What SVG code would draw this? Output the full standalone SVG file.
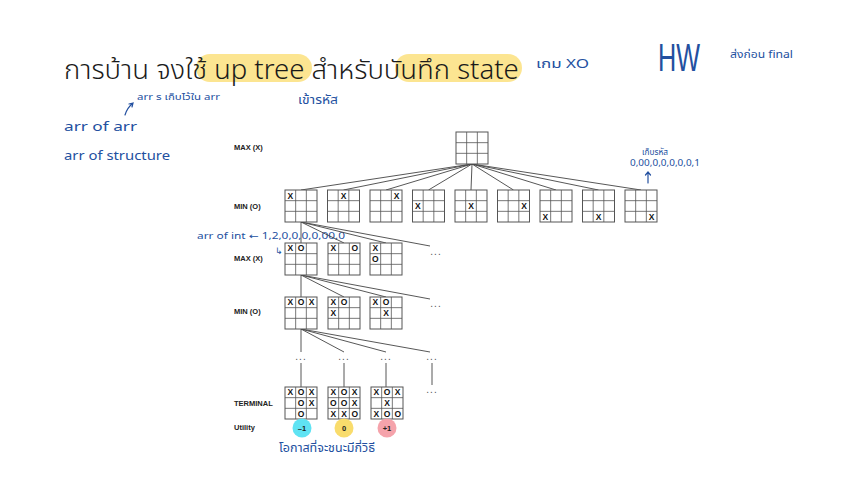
<svg xmlns="http://www.w3.org/2000/svg" xmlns:xlink="http://www.w3.org/1999/xlink" width="853" height="480" viewBox="0 0 853 480">
<style>
.bg{fill:#ffffff}
.lbl{font-family:"Liberation Sans",Arial,sans-serif;font-size:7.5px;font-weight:bold;fill:#222}
.m{font-family:"Liberation Sans",Arial,sans-serif;font-size:8.5px;font-weight:bold;fill:#111;text-anchor:middle}
.dots{font-family:"Liberation Sans",Arial,sans-serif;font-size:10px;fill:#555;text-anchor:middle;letter-spacing:1px}
.edge{stroke:#444;stroke-width:0.9;fill:none}
.hand{font-family:"Noto Sans Thai","Noto Sans","DejaVu Sans",sans-serif;fill:#2350a0}
.title{font-family:"Noto Sans Thai","Noto Sans","DejaVu Sans",sans-serif;font-size:27.5px;font-weight:300;fill:#1a1a1a}
.hl{stroke:#fbe07e;stroke-width:28;stroke-linecap:round;fill:none;opacity:0.85}
.util{font-family:"Liberation Sans",Arial,sans-serif;font-size:7.5px;font-weight:bold;fill:#222;text-anchor:middle}
.ink{stroke:#2350a0;stroke-width:1.2;fill:none;stroke-linecap:round}
</style>
<defs>
<symbol id="board" viewBox="0 0 32 32" width="32" height="32" overflow="visible">
<rect x="0" y="0" width="32" height="32" fill="#fff" stroke="#555" stroke-width="1"/>
<path d="M10.67 0V32M21.33 0V32M0 10.67H32M0 21.33H32" stroke="#555" stroke-width="0.8"/>
</symbol>
</defs>
<rect class="bg" x="0" y="0" width="853" height="480"/>

<g id="title">
<path class="hl" d="M210 68H298"/>
<path class="hl" d="M409 68H508"/>
<text class="title" x="64" y="79">การบ้าน จงใช้ up tree สำหรับบันทึก state</text>
</g>

<g id="notes">
<text class="hand" x="536" y="68" font-size="13" textLength="53" lengthAdjust="spacingAndGlyphs">เกม XO</text>
<text x="658" y="71" font-family="Liberation Sans,Arial,sans-serif" font-size="38" font-weight="normal" fill="#2350a0" textLength="42" lengthAdjust="spacingAndGlyphs">HW</text>
<text class="hand" x="730" y="58" font-size="10" textLength="63" lengthAdjust="spacingAndGlyphs">ส่งก่อน final</text>
<text class="hand" x="137" y="100" font-size="8.5" textLength="83" lengthAdjust="spacingAndGlyphs">arr ร เก็บไว้ใน arr</text>
<path class="ink" d="M125 115Q127 108 133 103M129 104L133 103L132 107"/>
<text class="hand" x="64" y="131" font-size="13" textLength="73" lengthAdjust="spacingAndGlyphs">arr of arr</text>
<text class="hand" x="64" y="160" font-size="13" textLength="106" lengthAdjust="spacingAndGlyphs">arr of structure</text>
<text class="hand" x="298" y="104" font-size="12" textLength="40" lengthAdjust="spacingAndGlyphs">เข้ารหัส</text>
<text class="hand" x="642" y="155" font-size="9" textLength="26" lengthAdjust="spacingAndGlyphs">เก็บรหัส</text>
<text class="hand" x="630" y="166" font-size="8" textLength="70" lengthAdjust="spacingAndGlyphs">0,00,0,0,0,0,0,1</text>
<path class="ink" d="M648 183V172M645.5 175L648 172L650.5 175"/>
<text class="hand" x="197" y="239" font-size="9" textLength="148" lengthAdjust="spacingAndGlyphs">arr of int ← 1,2,0,0,0,0,00,0</text>
<text class="hand" x="275" y="254" font-size="9">↳</text>
<text class="hand" x="279" y="452" font-size="12" textLength="96" lengthAdjust="spacingAndGlyphs">โอกาสที่จะชนะมีกี่วิธี</text>
</g>

<g id="labels">
<text class="lbl" x="234" y="150">MAX (X)</text>
<text class="lbl" x="234" y="209">MIN (O)</text>
<text class="lbl" x="234" y="261">MAX (X)</text>
<text class="lbl" x="234" y="314">MIN (O)</text>
<text class="lbl" x="234" y="406">TERMINAL</text>
<text class="lbl" x="234" y="430">Utility</text>
</g>

<g id="connectors">
<path class="edge" d="M472 164L301 190M472 164L343.5 190M472 164L386 190M472 164L428.5 190M472 164L471 190M472 164L513.5 190M472 164L556 190M472 164L598.5 190M472 164L641 190"/>
<path class="edge" d="M301 222L301 243M301 222L344 243M301 222L386 243M301 222L430 246"/>
<path class="edge" d="M301 275L301 297M301 275L344 297M301 275L386 297M301 275L430 299"/>
<path class="edge" d="M301 329L301 352M301 329L344 352M301 329L386 352M301 329L430 352"/>
<path class="edge" d="M301 363V387M344 363V387M386 363V387M432 363V385"/>
</g>

<g id="root"><use href="#board" x="456" y="132"/></g>

<g id="min1"><use href="#board" x="285" y="190"/><text class="m" x="290.3" y="198.5">X</text></g>
<g id="min2"><use href="#board" x="327.5" y="190"/><text class="m" x="343.5" y="198.5">X</text></g>
<g id="min3"><use href="#board" x="370" y="190"/><text class="m" x="396.7" y="198.5">X</text></g>
<g id="min4"><use href="#board" x="412.5" y="190"/><text class="m" x="417.8" y="209.2">X</text></g>
<g id="min5"><use href="#board" x="455" y="190"/><text class="m" x="471" y="209.2">X</text></g>
<g id="min6"><use href="#board" x="497.5" y="190"/><text class="m" x="524.2" y="209.2">X</text></g>
<g id="min7"><use href="#board" x="540" y="190"/><text class="m" x="545.3" y="219.8">X</text></g>
<g id="min8"><use href="#board" x="582.5" y="190"/><text class="m" x="598.5" y="219.8">X</text></g>
<g id="min9"><use href="#board" x="625" y="190"/><text class="m" x="651.7" y="219.8">X</text></g>

<g id="max2a"><use href="#board" x="285" y="243"/><text class="m" x="290.3" y="251.3">X</text><text class="m" x="301" y="251.3">O</text></g>
<g id="max2b"><use href="#board" x="328" y="243"/><text class="m" x="333.3" y="251.3">X</text><text class="m" x="354.7" y="251.3">O</text></g>
<g id="max2c"><use href="#board" x="370" y="243"/><text class="m" x="375.3" y="251.3">X</text><text class="m" x="375.3" y="262">O</text></g>
<g id="max2dots"><text class="dots" x="436" y="255">...</text></g>

<g id="min2a"><use href="#board" x="285" y="297"/><text class="m" x="290.3" y="305.3">X</text><text class="m" x="301" y="305.3">O</text><text class="m" x="311.7" y="305.3">X</text></g>
<g id="min2b"><use href="#board" x="328" y="297"/><text class="m" x="333.3" y="305.3">X</text><text class="m" x="344" y="305.3">O</text><text class="m" x="333.3" y="316">X</text></g>
<g id="min2c"><use href="#board" x="370" y="297"/><text class="m" x="375.3" y="305.3">X</text><text class="m" x="386" y="305.3">O</text><text class="m" x="386" y="316">X</text></g>
<g id="min2dots"><text class="dots" x="436" y="307">...</text></g>

<g id="dotsrow">
<text class="dots" x="301" y="360">...</text>
<text class="dots" x="344" y="360">...</text>
<text class="dots" x="386" y="360">...</text>
<text class="dots" x="432" y="360">...</text>
<text class="dots" x="432" y="393">...</text>
</g>

<g id="term1"><use href="#board" x="285" y="387"/>
<text class="m" x="290.3" y="395.3">X</text><text class="m" x="301" y="395.3">O</text><text class="m" x="311.7" y="395.3">X</text>
<text class="m" x="301" y="406">O</text><text class="m" x="311.7" y="406">X</text>
<text class="m" x="301" y="416.6">O</text></g>
<g id="term2"><use href="#board" x="328" y="387"/>
<text class="m" x="333.3" y="395.3">X</text><text class="m" x="344" y="395.3">O</text><text class="m" x="354.7" y="395.3">X</text>
<text class="m" x="333.3" y="406">O</text><text class="m" x="344" y="406">O</text><text class="m" x="354.7" y="406">X</text>
<text class="m" x="333.3" y="416.6">X</text><text class="m" x="344" y="416.6">X</text><text class="m" x="354.7" y="416.6">O</text></g>
<g id="term3"><use href="#board" x="371" y="387"/>
<text class="m" x="376.3" y="395.3">X</text><text class="m" x="387" y="395.3">O</text><text class="m" x="397.7" y="395.3">X</text>
<text class="m" x="387" y="406">X</text>
<text class="m" x="376.3" y="416.6">X</text><text class="m" x="387" y="416.6">O</text><text class="m" x="397.7" y="416.6">O</text></g>

<g id="u1"><circle cx="302" cy="428" r="9.5" fill="#5fe3f3"/><text class="util" x="302" y="431">–1</text></g>
<g id="u2"><circle cx="344" cy="428" r="9.5" fill="#f9dc6c"/><text class="util" x="344" y="431">0</text></g>
<g id="u3"><circle cx="387" cy="428" r="9.5" fill="#f5a3ab"/><text class="util" x="387" y="431">+1</text></g>
</svg>
